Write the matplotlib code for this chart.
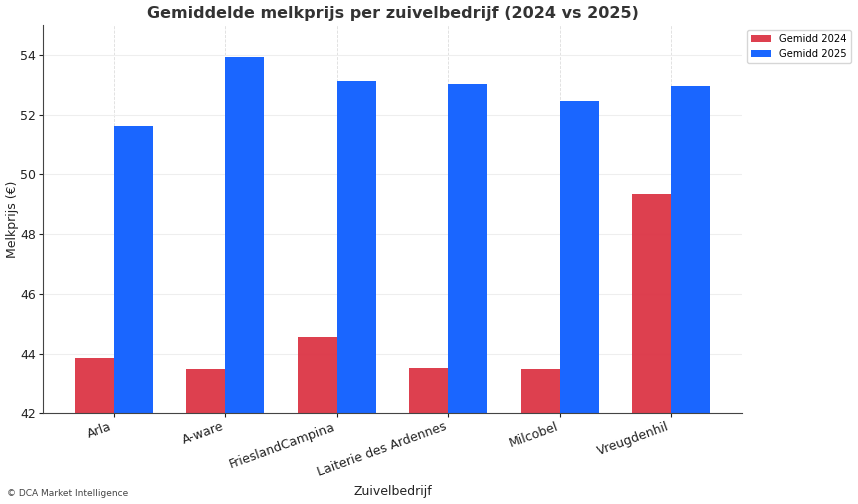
import numpy as np
import matplotlib
matplotlib.use('Agg')
import matplotlib.pyplot as plt

bedrijven = ["Arla", "A-ware", "FrieslandCampina", "Laiterie des Ardennes", "Milcobel", "Vreugdenhil"]
gemidd_2024 = [43.85, 43.50, 44.55, 43.52, 43.48, 49.33]
gemidd_2025 = [51.61, 53.95, 53.12, 53.02, 52.45, 52.98]

x = np.arange(len(bedrijven))
w = 0.35

fig, ax = plt.subplots(figsize=(8.58, 5.04), dpi=100)
ax.bar(x - w/2, gemidd_2024, w, color='#dc3545', alpha=0.95, label='Gemidd 2024')
ax.bar(x + w/2, gemidd_2025, w, color='#1a66ff', label='Gemidd 2025')

ax.set_ylim(42, 55)
ax.set_xticks(x)
ax.set_xticklabels(bedrijven, rotation=20, ha='right', fontsize=9, color='#222222')
ax.tick_params(axis='both', labelsize=9, colors='#222222', length=3, pad=2)
ax.set_xlabel('Zuivelbedrijf', fontsize=9, color='#222222', labelpad=4)
ax.set_ylabel('Melkprijs (€)', fontsize=9, color='#222222', labelpad=1)
ax.set_title('Gemiddelde melkprijs per zuivelbedrijf (2024 vs 2025)', fontsize=11.5,
             fontweight='bold', color='#333333', pad=5)
ax.grid(axis='y', color='#eeeeee', linewidth=0.8)
ax.grid(axis='x', color='#dddddd', linestyle='--', linewidth=0.6)
ax.set_axisbelow(True)
for s in ['top', 'right']:
    ax.spines[s].set_visible(False)
for s in ['left', 'bottom']:
    ax.spines[s].set_color('#444444')
ax.legend(loc='upper left', bbox_to_anchor=(1.0, 1.0), fontsize=7.2)

fig.text(0.008, 0.015, '© DCA Market Intelligence', fontsize=6.5, color='#444444')
plt.subplots_adjust(left=0.05, right=0.865, top=0.95, bottom=0.18)
plt.savefig("out.png")
plt.close()
